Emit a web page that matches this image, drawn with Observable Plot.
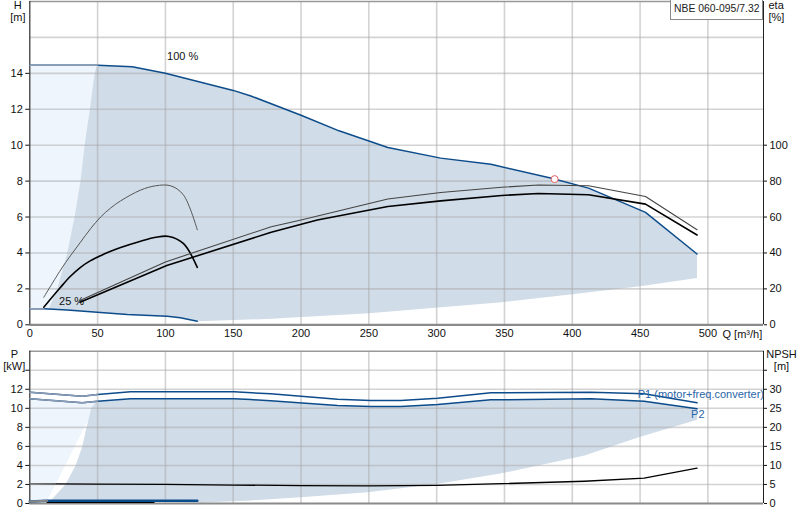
<!DOCTYPE html>
<html><head><meta charset="utf-8">
<script src="https://cdn.jsdelivr.net/npm/d3@7"></script>
<script src="https://cdn.jsdelivr.net/npm/@observablehq/plot@0.6"></script>
<style>
body{margin:0;background:#fff;font-family:"Liberation Sans",Arial,sans-serif;}
#wrap{position:relative;width:800px;height:520px;overflow:hidden;}
#wrap svg{display:block;}
#tag{position:absolute;left:670px;top:-1px;width:93px;height:21px;border:1px solid #8a8a8a;background:#fff;font-size:10.4px;line-height:17px;padding-left:3px;white-space:nowrap;text-align:left;box-sizing:border-box;color:#222;font-family:"Liberation Sans",Arial,sans-serif;}
</style></head><body><div id="wrap"><div id="tag">NBE 060-095/7.32</div></div>
<script>
// ---------- data (Q in m³/h) ----------
const flowTicks = [0, 50, 100, 150, 200, 250, 300, 350, 400, 450, 500];
const hTicks = [0, 2, 4, 6, 8, 10, 12, 14];
const hGrid = [2, 4, 6, 8, 10, 12, 14, 16];
const etaTicks = [0, 20, 40, 60, 80, 100];
const pTicks = [0, 2, 4, 6, 8, 10, 12, 14];
const npshTicks = [0, 5, 10, 15, 20, 25, 30, 35];

// head at 100 % speed [Q, H]
const head100 = [[0,14.45],[50,14.45],[75.5,14.37],[100,14.0],[150,13.05],[163,12.74],[200,11.67],[228,10.8],[264,9.87],[303,9.28],[340,8.94],[384,8.17],[412,7.61],[454,6.26],[492,3.94]];
// head at 25 % speed [Q, H]
const head25 = [[0,0.89],[10.4,0.89],[27.6,0.83],[49.7,0.7],[71.9,0.57],[101.4,0.48],[111,0.39],[123.5,0.2]];
// left (min flow) limit of operating range [Q, H]
const limitLeftH = [[14,0.88],[20.2,2],[27.6,4],[33,6],[37.4,8],[40.4,10],[44.3,12],[47.8,14],[49.7,14.45]];
// lower limit of operating range [Q, H]
const limitLowH = [[123.5,0.2],[178,0.33],[250,0.65],[348,1.26],[400,1.7],[450,2.15],[492,2.6]];
// efficiencies [Q, eta %]
const etaTotal100 = [[37,13.5],[100,35],[178,54.6],[200,58.3],[264,70],[303,73.7],[348,76.6],[375,77.8],[412,77.4],[454,71.4],[492,52.9]];
const etaPump100 = [[37,12.6],[101,33],[178,51.5],[212,58.3],[264,65.9],[303,69],[348,72],[375,73.1],[412,72.4],[454,67.2],[492,50]];
const etaTotal25 = [[10.3,15.3],[22.7,30.5],[30,38.5],[37.4,46],[44.8,53.5],[52.2,60],[59.6,65],[67,69],[81.7,75],[92.8,77.4],[103.8,77.4],[113.2,72.4],[123.5,52.9]];
const etaPump25 = [[10.3,9.8],[22.7,20.9],[30,27],[37.4,32],[44.8,35.7],[52.2,38.5],[59.6,40.9],[67,43],[81.7,46.5],[92.8,48.7],[102.6,49.2],[113.2,45.3],[123.5,32]];
const dutyPoint = [[387,8.11]];
const speedLabels = [{q:112.7, h:14.96, label:"100 %"},{q:30.8, h:1.3, label:"25 %"}];

// power [Q, kW]
const power1 = [[0,11.69],[38.7,11.27],[50,11.45],[74.3,11.73],[150.6,11.73],[177.6,11.52],[226.9,10.96],[251.4,10.82],[273.6,10.82],[300.7,11.06],[340,11.63],[413.8,11.69],[453,11.52],[492,10.58]];
const power2 = [[0,11.0],[38.7,10.58],[50,10.75],[74.3,11.0],[150.6,11.0],[163,10.92],[177.6,10.79],[226.9,10.29],[251.4,10.19],[273.6,10.19],[300.7,10.4],[340,10.89],[413.8,11.0],[453,10.75],[492,9.95]];
const power1Low = [[0,0.2],[12.8,0.28],[60,0.3],[123.5,0.3]];
const power2Low = [[12.8,0.12],[91.5,0.12]];
const limitLeftP = [[12.8,0.28],[15.3,0.3],[26.3,2],[33.7,4],[38.7,6],[41.8,8],[45.3,10],[49,10.75]];
const limitLowP = [[123.5,0.07],[163,0.32],[200,0.66],[249,1.19],[301,2.07],[348,3.18],[409,5.04],[449,6.97],[492,8.79]];
// NPSH [Q, m]
const npsh = [[0,5.2],[19,5.15],[50,5.1],[100,5.0],[150,4.85],[200,4.7],[250,4.65],[300,4.75],[348,5.2],[409,5.85],[453,6.65],[492,9.3]];
const powerLabels = [{q:448.3, p:11.45, label:"P1 (motor+freq.converter)"},{q:487.6, p:9.35, label:"P2"}];

// ---------- helpers ----------
const pts = a => a.map(([q, v]) => ({q, v}));
const rev = a => a.slice().reverse();
const blue = "#0d4c8a", greyBlue = "#8d9bb2", fillDark = "#d0dce8", fillLight = "#eef5fc";
const gridStyle = {stroke: "#a8a8a8", strokeOpacity: 0.5, strokeWidth: 1.6};
const font = "Liberation Sans, Arial, sans-serif";
const xMax = 541;
const smooth = "catmull-rom";

const lightTop = pts([...head100.filter(d => d[0] <= 50), ...rev(head25.filter(d => d[0] <= 50))]);
const darkTop = pts([...limitLeftH, ...head100.filter(d => d[0] > 50), ...rev(limitLowH), ...rev(head25.filter(d => d[0] > 14 && d[0] < 123.5))]);

const lightBot = pts([...power2.filter(d => d[0] <= 50), ...rev(power1Low.filter(d => d[0] <= 50))]);
const darkBot = pts([...limitLeftP, ...power2.filter(d => d[0] > 50), ...rev(limitLowP), ...rev(power1Low.filter(d => d[0] > 12.8 && d[0] < 123.5))]);

const topPlot = Plot.plot({
  width: 800, height: 340,
  marginLeft: 29.3, marginRight: 37, marginTop: 1, marginBottom: 15.7,
  style: {fontFamily: font, fontSize: "11px", color: "#111", background: "transparent"},
  x: {domain: [0, xMax], label: null},
  y: {domain: [0, 18], label: null},
  marks: [
    Plot.line(lightTop, {x: "q", y: "v", fill: fillLight, stroke: "none"}),
    Plot.line(darkTop, {x: "q", y: "v", fill: fillDark, stroke: "none"}),
    Plot.gridX({ticks: flowTicks, ...gridStyle}),
    Plot.gridY({ticks: hGrid, ...gridStyle}),
    Plot.ruleY([18], {stroke: "#999", strokeWidth: 1.5}),
    Plot.ruleY([0], {stroke: "#8a8a8a", strokeWidth: 2.2}),
    Plot.ruleX([0], {stroke: "#222"}),
    Plot.ruleX([xMax], {stroke: "#222"}),
    Plot.line(pts(head25), {x: "q", y: "v", stroke: blue, strokeWidth: 1.5}),
    Plot.line(pts(head25.filter(d => d[0] <= 10.4)), {x: "q", y: "v", stroke: greyBlue, strokeWidth: 1.5}),
    Plot.line(pts(head100), {x: "q", y: "v", stroke: blue, strokeWidth: 1.5}),
    Plot.line(pts(head100.filter(d => d[0] <= 50)), {x: "q", y: "v", stroke: greyBlue, strokeWidth: 1.5}),
    Plot.line(pts(etaTotal25), {x: "q", y: d => d.v / 10, stroke: "#555", strokeWidth: 1, curve: smooth}),
    Plot.line(pts(etaPump25), {x: "q", y: d => d.v / 10, stroke: "#000", strokeWidth: 1.6, curve: smooth}),
    Plot.line(pts(etaTotal100), {x: "q", y: d => d.v / 10, stroke: "#444", strokeWidth: 1.1}),
    Plot.line(pts(etaPump100), {x: "q", y: d => d.v / 10, stroke: "#000", strokeWidth: 1.6}),
    Plot.dot(pts(dutyPoint), {x: "q", y: "v", r: 3.5, stroke: "#e06060", fill: "white", strokeWidth: 1}),
    Plot.text(speedLabels, {x: "q", y: "h", text: "label", fontSize: 11, fill: "#111"}),
    Plot.axisX({ticks: flowTicks, tickSize: 0, tickPadding: 4, label: null, fontSize: 11}),
    Plot.axisY({anchor: "left", ticks: hTicks, tickSize: 4, tickPadding: 3, label: null, fontSize: 11}),
    Plot.axisY({anchor: "right", ticks: etaTicks.map(e => e / 10), tickFormat: d => String(Math.round(d * 10)), tickSize: 3, tickPadding: 3, label: null, fontSize: 11}),
    Plot.text(["H\n[m]"], {text: d => d, frameAnchor: "top-left", dx: -12, dy: -1, lineAnchor: "top", textAnchor: "middle", fontSize: 11, lineHeight: 1.1}),
    Plot.text(["eta\n[%]"], {text: d => d, frameAnchor: "top-right", dx: 5, dy: -1, lineAnchor: "top", textAnchor: "start", fontSize: 11, lineHeight: 1.1}),
    Plot.text(["Q [m³/h]"], {text: d => d, frameAnchor: "bottom-right", dx: -41, dy: 9.7, lineAnchor: "middle", textAnchor: "start", fontSize: 11})
  ]
});

const botPlot = Plot.plot({
  width: 800, height: 180,
  marginLeft: 29.3, marginRight: 37, marginTop: 10.7, marginBottom: 17,
  style: {fontFamily: font, fontSize: "11px", color: "#111", background: "transparent"},
  x: {domain: [0, xMax], label: null, axis: null},
  y: {domain: [0, 16], label: null},
  marks: [
    Plot.line(lightBot, {x: "q", y: "v", fill: fillLight, stroke: "none"}),
    Plot.line(darkBot, {x: "q", y: "v", fill: fillDark, stroke: "none"}),
    Plot.gridX({ticks: flowTicks, ...gridStyle}),
    Plot.gridY({ticks: pTicks.filter(d => d > 0), ...gridStyle}),
    Plot.ruleY([16], {stroke: "#999", strokeWidth: 1.5}),
    Plot.ruleY([0], {stroke: "#8a8a8a", strokeWidth: 2.2}),
    Plot.ruleX([0], {stroke: "#222"}),
    Plot.ruleX([xMax], {stroke: "#222"}),
    Plot.line(pts(npsh), {x: "q", y: d => d.v / 2.5, stroke: "#000", strokeWidth: 1.3}),
    Plot.line(pts(npsh.filter(d => d[0] <= 19)), {x: "q", y: d => d.v / 2.5, stroke: "#777", strokeWidth: 1.3}),
    Plot.line(pts(power2Low), {x: "q", y: "v", stroke: "#000", strokeWidth: 1.5}),
    Plot.line(pts(power1Low), {x: "q", y: "v", stroke: blue, strokeWidth: 2.5}),
    Plot.line(pts(power1Low.filter(d => d[0] <= 12.8)), {x: "q", y: "v", stroke: "#888", strokeWidth: 2}),
    Plot.line(pts(power1), {x: "q", y: "v", stroke: blue, strokeWidth: 1.5}),
    Plot.line(pts(power1.filter(d => d[0] <= 50)), {x: "q", y: "v", stroke: greyBlue, strokeWidth: 1.5}),
    Plot.line(pts(power2), {x: "q", y: "v", stroke: blue, strokeWidth: 1.5}),
    Plot.line(pts(power2.filter(d => d[0] <= 50)), {x: "q", y: "v", stroke: greyBlue, strokeWidth: 1.5}),
    Plot.text(powerLabels, {x: "q", y: "p", text: "label", textAnchor: "start", fontSize: 11, fill: "#2a66a8"}),
    Plot.axisY({anchor: "left", ticks: pTicks, tickFormat: d => d === 14 ? "" : String(d), tickSize: 4, tickPadding: 3, label: null, fontSize: 11}),
    Plot.axisY({anchor: "right", ticks: npshTicks.map(n => n / 2.5), tickFormat: d => { const n = Math.round(d * 2.5); return n === 35 ? "" : String(n); }, tickSize: 3, tickPadding: 3, label: null, fontSize: 11}),
    Plot.text(["P\n[kW]"], {text: d => d, frameAnchor: "top-left", dx: -15.5, dy: -1.5, lineAnchor: "top", textAnchor: "middle", fontSize: 11, lineHeight: 1.1}),
    Plot.text(["NPSH\n[m]"], {text: d => d, frameAnchor: "top-right", dx: 18, dy: -1.5, lineAnchor: "top", textAnchor: "middle", fontSize: 11, lineHeight: 1.1})
  ]
});

const wrap = document.getElementById("wrap");
wrap.insertBefore(botPlot, wrap.firstChild);
wrap.insertBefore(topPlot, botPlot);
</script>
</body></html>
